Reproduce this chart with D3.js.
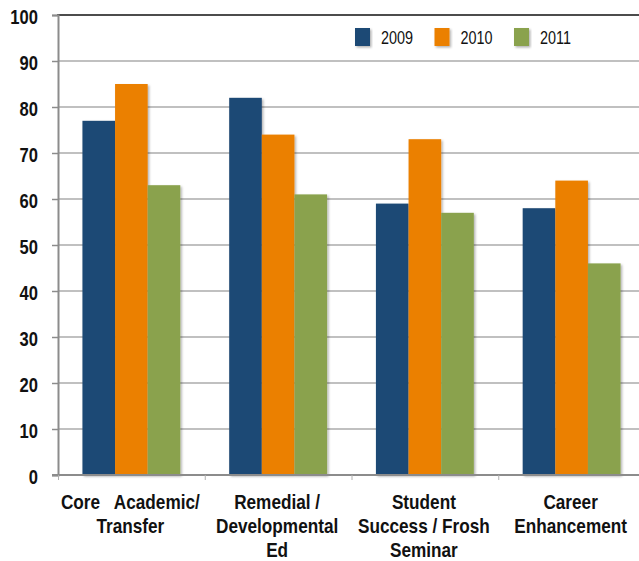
<!DOCTYPE html>
<html>
<head>
<meta charset="utf-8">
<script src="https://cdn.jsdelivr.net/npm/d3@7"></script>
<style>
  html, body { margin: 0; padding: 0; background: #fff; }
  svg { display: block; }
</style>
</head>
<body>
<svg id="chart" width="639" height="561"></svg>
<script>
const categories = [
  ["Core   Academic/", "Transfer"],
  ["Remedial /", "Developmental", "Ed"],
  ["Student", "Success / Frosh", "Seminar"],
  ["Career", "Enhancement"]
];
const categoryKeys = ["core", "remedial", "student", "career"];
const seriesNames = ["2009", "2010", "2011"];
const values2009 = [77, 82, 59, 58];
const values2010 = [85, 74, 73, 64];
const values2011 = [63, 61, 57, 46];
const yTicks = [0, 10, 20, 30, 40, 50, 60, 70, 80, 90, 100];
const colors = ["#1f4a75", "#eb8005", "#8aa24d"];

const seriesValues = [values2009, values2010, values2011];
const font = "'Liberation Sans', Arial, sans-serif";

const svg = d3.select("#chart");
const defs = svg.append("defs");
const f = defs.append("filter").attr("id", "shadow")
  .attr("x", "-10%").attr("y", "-10%").attr("width", "130%").attr("height", "130%");
f.append("feDropShadow").attr("dx", 1.5).attr("dy", 1.5).attr("stdDeviation", 1)
  .attr("flood-color", "#000").attr("flood-opacity", 0.3);

const mLeft = 58, mRight = 645, mTop = 15, mBottom = 475;

const x0 = d3.scaleBand().domain(categoryKeys).range([mLeft, mRight])
  .paddingInner(0.333).paddingOuter(0.1665);
const x1 = d3.scaleBand().domain(seriesNames).range([0, x0.bandwidth()]);
const y = d3.scaleLinear().domain([0, 100]).range([mBottom, mTop]);

// gridlines
svg.append("g").selectAll("line").data(yTicks.filter(t => t > 0 && t < 100)).join("line")
  .attr("x1", mLeft).attr("x2", 639)
  .attr("y1", d => y(d)).attr("y2", d => y(d))
  .attr("stroke", "#ababab").attr("stroke-width", 1.5);

// top border
svg.append("line").attr("x1", mLeft - 1).attr("x2", 639)
  .attr("y1", y(100)).attr("y2", y(100))
  .attr("stroke", "#111").attr("stroke-width", 1.5);

// bars
const groups = svg.append("g").selectAll("g").data(categoryKeys).join("g")
  .attr("transform", d => `translate(${x0(d)},0)`);
groups.selectAll("rect")
  .data((d, i) => seriesNames.map((s, j) => ({ s, v: seriesValues[j][i], c: colors[j] })))
  .join("rect")
  .attr("x", d => x1(d.s))
  .attr("y", d => y(d.v))
  .attr("width", x1.bandwidth())
  .attr("height", d => y(0) - y(d.v))
  .attr("fill", d => d.c)
  .attr("filter", "url(#shadow)");

// y axis
const ySx = 0.85;
const yAxis = d3.axisLeft(y).tickValues(yTicks).tickSize(6).tickPadding(14);
const yg = svg.append("g").attr("transform", `translate(${mLeft},0)`).call(yAxis);
yg.select(".domain").attr("stroke", "#8c8c8c").attr("stroke-width", 2);
yg.selectAll(".tick line").attr("stroke", "#8c8c8c").attr("stroke-width", 1.5);
yg.selectAll(".tick text")
  .attr("font-family", font).attr("font-weight", "bold").attr("font-size", 19.5)
  .attr("fill", "#111").attr("dy", "0.42em")
  .attr("x", -20 / ySx)
  .attr("transform", `scale(${ySx},1)`);

// x axis
const xAxisLine = svg.append("g");
xAxisLine.append("line").attr("x1", mLeft - 6).attr("x2", 639)
  .attr("y1", mBottom).attr("y2", mBottom)
  .attr("stroke", "#8c8c8c").attr("stroke-width", 2);
const step = x0.step();
xAxisLine.selectAll(".ctick").data(categoryKeys).join("line")
  .attr("class", "ctick")
  .attr("x1", d => x0(d) - x0.paddingOuter() * step + 0.5)
  .attr("x2", d => x0(d) - x0.paddingOuter() * step + 0.5)
  .attr("y1", mBottom).attr("y2", mBottom + 5)
  .attr("stroke", "#b0b0b0").attr("stroke-width", 1);

// category labels (horizontally condensed)
const cSx = 0.86;
const labels = svg.append("g").selectAll("text").data(categoryKeys).join("text")
  .attr("transform", d => `translate(${x0(d) + x0.bandwidth() / 2 - 1},509) scale(${cSx},1)`)
  .attr("text-anchor", "middle")
  .attr("font-family", font).attr("font-weight", "bold").attr("font-size", 20)
  .attr("fill", "#111")
  .style("white-space", "pre");
labels.each(function(d, i) {
  const t = d3.select(this);
  categories[i].forEach((line, k) => {
    t.append("tspan").attr("x", 0).attr("dy", k === 0 ? 0 : 24).text(line);
  });
});

// legend
const lSx = 0.8;
const legend = svg.append("g").selectAll("g").data(seriesNames).join("g")
  .attr("transform", (d, i) => `translate(${355 + i * 79.5},28)`);
legend.append("rect").attr("width", 15).attr("height", 18)
  .attr("fill", (d, i) => colors[i]).attr("filter", "url(#shadow)");
legend.append("text")
  .attr("transform", `translate(26,16) scale(${lSx},1)`)
  .attr("font-family", font).attr("font-size", 18).attr("fill", "#111")
  .text(d => d);
</script>
</body>
</html>
